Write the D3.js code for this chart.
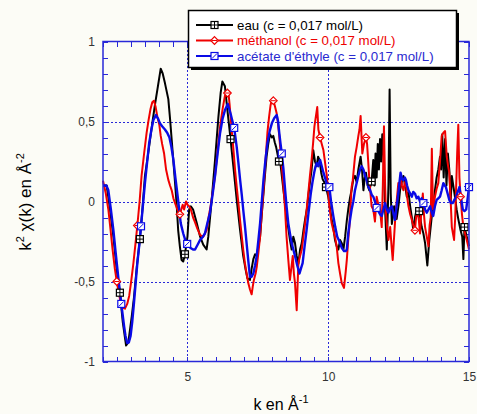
<!DOCTYPE html>
<html><head><meta charset="utf-8">
<script src="https://cdn.jsdelivr.net/npm/d3@7"></script>
<style>
html,body{margin:0;padding:0;background:#fcfcf6;}
svg{display:block;font-family:"Liberation Sans",Arial,sans-serif;}
</style></head>
<body><svg id="c" width="477" height="414"></svg>
<script>
// ---------- DATA ----------
const seriesNames = ["eau (c = 0,017 mol/L)", "méthanol (c = 0,017 mol/L)", "acétate d'éthyle (c = 0,017 mol/L)"];
const xTickLabels = [5, 10, 15];
const yTickLabels = [-1, -0.5, 0, 0.5, 1];

const eauK = [2.0,2.13,2.25,2.37,2.49,2.6,2.7,2.82,2.9,3.02,3.1,3.2,3.31,3.4,3.49,3.58,3.67,3.76,3.85,3.95,4.05,4.12,4.2,4.32,4.38,4.44,4.5,4.56,4.62,4.67,4.73,4.79,4.85,4.91,5.0,5.06,5.12,5.2,5.33,5.45,5.56,5.68,5.74,5.86,5.98,6.1,6.18,6.24,6.33,6.42,6.53,6.63,6.75,6.87,6.98,7.06,7.13,7.22,7.28,7.34,7.4,7.46,7.52,7.58,7.64,7.7,7.76,7.81,7.87,7.93,8.0,8.05,8.1,8.15,8.25,8.3,8.41,8.52,8.64,8.7,8.76,8.82,8.88,8.94,9.0,9.06,9.12,9.18,9.24,9.29,9.35,9.41,9.47,9.53,9.59,9.64,9.69,9.75,9.8,9.86,9.92,10.0,10.06,10.12,10.18,10.24,10.3,10.36,10.42,10.48,10.54,10.6,10.66,10.71,10.77,10.83,10.89,10.95,11.01,11.07,11.15,11.2,11.25,11.3,11.34,11.4,11.46,11.54,11.6,11.64,11.68,11.72,11.76,11.8,11.84,11.88,11.92,11.96,12.02,12.08,12.14,12.18,12.22,12.26,12.34,12.43,12.5,12.55,12.61,12.67,12.73,12.79,12.85,12.91,12.97,13.02,13.08,13.14,13.23,13.32,13.38,13.44,13.52,13.59,13.68,13.74,13.79,13.85,13.91,13.97,14.01,14.05,14.1,14.15,14.2,14.25,14.3,14.35,14.39,14.45,14.5,14.56,14.62,14.7,14.76,14.8,14.84,14.92,15.0];
const eauV = [0.1,0.1,-0.05,-0.22,-0.43,-0.57,-0.75,-0.9,-0.88,-0.72,-0.6,-0.41,-0.235,-0.05,0.16,0.27,0.385,0.5,0.61,0.72,0.83,0.8,0.74,0.64,0.52,0.385,0.25,0.115,-0.03,-0.18,-0.28,-0.365,-0.375,-0.33,-0.22,-0.05,-0.03,-0.05,-0.135,-0.22,-0.27,-0.3,-0.22,0.01,0.26,0.53,0.68,0.75,0.72,0.57,0.39,0.22,0.01,-0.18,-0.34,-0.42,-0.48,-0.49,-0.42,-0.36,-0.33,-0.34,-0.28,-0.22,-0.08,0.05,0.18,0.28,0.36,0.42,0.4,0.41,0.37,0.34,0.25,0.24,0.07,-0.09,-0.24,-0.3,-0.22,-0.26,-0.34,-0.39,-0.3,-0.26,-0.18,-0.11,-0.05,0.03,0.12,0.2,0.32,0.25,0.22,0.28,0.26,0.18,0.14,0.12,0.09,0.03,-0.04,-0.11,-0.16,-0.24,-0.28,-0.3,-0.24,-0.26,-0.3,-0.22,-0.12,-0.05,0.02,0.07,0.14,0.16,0.12,0.2,0.28,0.2,0.07,0.15,0.18,0.1,0.07,0.125,0.26,0.1,0.3,0.15,0.36,0.2,0.39,0.25,0.42,0.3,-0.05,-0.3,0.11,0.7,0.05,-0.14,-0.03,-0.11,-0.02,0.07,0.12,0.16,0.1,0.03,0.06,-0.03,-0.1,-0.18,-0.1,-0.05,-0.06,-0.16,-0.2,-0.26,-0.4,-0.24,-0.09,-0.02,0.07,0.15,0.2,0.28,0.2,0.42,0.15,0.39,0.1,0.3,0.2,0.0,0.16,0.09,0.03,-0.05,-0.11,-0.18,-0.22,-0.36,-0.16,-0.22,-0.28];

const methK = [2.0,2.1,2.19,2.27,2.34,2.42,2.49,2.57,2.66,2.78,2.86,2.93,3.0,3.08,3.15,3.22,3.3,3.37,3.46,3.55,3.62,3.69,3.75,3.81,3.87,3.93,4.0,4.05,4.1,4.17,4.24,4.32,4.38,4.44,4.5,4.56,4.64,4.73,4.78,4.83,4.88,4.95,5.0,5.06,5.12,5.2,5.27,5.35,5.45,5.56,5.68,5.75,5.82,5.9,5.98,6.07,6.16,6.25,6.33,6.4,6.45,6.5,6.57,6.63,6.69,6.75,6.81,6.87,6.93,6.98,7.04,7.1,7.16,7.22,7.28,7.32,7.36,7.42,7.46,7.52,7.58,7.64,7.7,7.77,7.84,7.9,7.95,8.0,8.05,8.1,8.17,8.22,8.26,8.32,8.38,8.46,8.52,8.58,8.64,8.7,8.74,8.78,8.82,8.88,8.94,9.0,9.06,9.12,9.18,9.24,9.29,9.35,9.41,9.46,9.51,9.56,9.61,9.65,9.71,9.77,9.83,9.89,9.95,10.0,10.04,10.12,10.18,10.24,10.3,10.36,10.42,10.48,10.56,10.62,10.66,10.71,10.75,10.83,10.87,10.95,11.01,11.07,11.11,11.15,11.21,11.27,11.34,11.38,11.42,11.46,11.54,11.6,11.66,11.72,11.78,11.84,11.9,11.94,11.98,12.02,12.05,12.1,12.14,12.2,12.25,12.29,12.33,12.37,12.43,12.49,12.53,12.57,12.62,12.67,12.72,12.76,12.8,12.85,12.91,12.97,13.02,13.08,13.12,13.17,13.22,13.26,13.31,13.36,13.4,13.44,13.5,13.56,13.6,13.64,13.68,13.72,13.79,13.85,13.91,13.97,14.03,14.09,14.15,14.21,14.26,14.3,14.35,14.39,14.43,14.47,14.51,14.54,14.58,14.62,14.66,14.7,14.75,14.8,14.86,14.92,15.0];
const methV = [0.13,0.05,-0.05,-0.18,-0.3,-0.42,-0.5,-0.58,-0.66,-0.67,-0.64,-0.59,-0.5,-0.385,-0.27,-0.15,0.0,0.16,0.3,0.43,0.51,0.58,0.62,0.63,0.59,0.53,0.48,0.41,0.36,0.3,0.2,0.135,0.1,0.07,0.02,-0.01,-0.05,-0.08,-0.05,-0.02,-0.05,0.0,-0.02,-0.03,-0.05,-0.1,-0.13,-0.17,-0.21,-0.22,-0.18,-0.1,-0.03,0.06,0.16,0.32,0.47,0.58,0.66,0.67,0.69,0.6,0.45,0.33,0.2,0.09,-0.01,-0.12,-0.22,-0.3,-0.385,-0.45,-0.51,-0.55,-0.58,-0.53,-0.49,-0.45,-0.41,-0.32,-0.22,-0.07,0.07,0.25,0.43,0.53,0.6,0.64,0.63,0.6,0.55,0.48,0.41,0.28,0.16,-0.03,-0.22,-0.36,-0.49,-0.4,-0.34,-0.45,-0.51,-0.68,-0.385,-0.34,-0.3,-0.22,-0.135,-0.04,0.05,0.16,0.26,0.36,0.47,0.53,0.59,0.45,0.4,0.36,0.32,0.24,0.16,0.06,-0.03,-0.135,-0.18,-0.22,-0.28,-0.385,-0.45,-0.51,-0.54,-0.44,-0.365,-0.24,-0.16,0.09,0.13,0.28,0.34,0.41,0.45,0.535,0.3,0.36,0.4,0.36,0.25,0.135,-0.03,-0.05,-0.125,0.03,-0.02,-0.05,-0.16,0.1,0.47,0.1,-0.07,-0.18,-0.24,-0.16,-0.28,-0.365,-0.25,-0.135,0.0,0.115,0.08,0.16,0.1,0.07,0.12,0.115,0.03,-0.03,-0.08,-0.115,-0.15,-0.18,-0.1,-0.05,-0.12,-0.2,-0.05,0.05,-0.08,-0.16,-0.22,-0.28,-0.15,-0.1,0.33,-0.05,0.03,0.08,0.115,0.25,0.41,0.43,0.44,0.28,0.22,0.18,0.0,-0.16,-0.2,-0.24,-0.1,0.07,0.3,0.48,0.15,0.03,-0.08,-0.16,-0.2,-0.24,-0.3];

const acetK = [2.0,2.04,2.12,2.19,2.28,2.37,2.45,2.54,2.65,2.75,2.8,2.86,2.92,2.98,3.04,3.1,3.16,3.22,3.29,3.35,3.42,3.49,3.57,3.64,3.72,3.79,3.88,3.95,4.02,4.1,4.2,4.28,4.36,4.43,4.5,4.57,4.64,4.7,4.76,4.85,4.92,4.99,5.11,5.2,5.27,5.36,5.45,5.55,5.62,5.7,5.8,5.89,5.98,6.07,6.16,6.25,6.33,6.43,6.53,6.6,6.66,6.75,6.81,6.87,6.93,6.98,7.04,7.1,7.16,7.22,7.28,7.34,7.4,7.46,7.52,7.58,7.64,7.7,7.77,7.84,7.92,8.0,8.08,8.17,8.22,8.26,8.3,8.35,8.41,8.47,8.52,8.58,8.64,8.7,8.76,8.82,8.9,8.98,9.03,9.09,9.16,9.23,9.3,9.38,9.44,9.5,9.55,9.59,9.65,9.71,9.77,9.83,9.9,9.97,10.04,10.1,10.18,10.25,10.32,10.4,10.48,10.56,10.62,10.66,10.71,10.77,10.83,10.89,10.95,11.01,11.07,11.13,11.19,11.25,11.31,11.37,11.43,11.49,11.55,11.6,11.66,11.72,11.78,11.84,11.9,11.96,12.02,12.08,12.14,12.2,12.26,12.32,12.37,12.43,12.49,12.53,12.57,12.62,12.67,12.72,12.76,12.8,12.85,12.91,12.97,13.02,13.08,13.14,13.2,13.26,13.32,13.38,13.44,13.5,13.56,13.62,13.68,13.73,13.79,13.85,13.91,13.97,14.03,14.09,14.14,14.18,14.24,14.3,14.36,14.42,14.48,14.54,14.6,14.66,14.72,14.78,14.84,14.9,14.96,15.0];
const acetV = [0.1,0.1,0.1,0.07,-0.05,-0.18,-0.32,-0.47,-0.64,-0.78,-0.84,-0.885,-0.88,-0.84,-0.75,-0.635,-0.51,-0.385,-0.27,-0.155,-0.02,0.115,0.25,0.365,0.45,0.51,0.54,0.52,0.49,0.47,0.45,0.43,0.4,0.34,0.26,0.15,0.05,-0.04,-0.135,-0.2,-0.24,-0.265,-0.29,-0.3,-0.3,-0.27,-0.24,-0.22,-0.2,-0.14,-0.07,0.04,0.16,0.3,0.43,0.52,0.57,0.61,0.55,0.5,0.46,0.34,0.24,0.135,0.04,-0.05,-0.15,-0.26,-0.37,-0.47,-0.47,-0.45,-0.4,-0.34,-0.24,-0.135,0.0,0.135,0.26,0.365,0.44,0.49,0.52,0.54,0.5,0.43,0.37,0.3,0.2,0.07,-0.03,-0.135,-0.2,-0.26,-0.3,-0.34,-0.4,-0.45,-0.42,-0.385,-0.28,-0.18,-0.07,0.05,0.12,0.18,0.22,0.24,0.22,0.26,0.22,0.18,0.14,0.1,0.09,0.0,-0.09,-0.16,-0.22,-0.25,-0.29,-0.31,-0.31,-0.3,-0.2,-0.12,-0.05,0.0,0.07,0.115,0.16,0.2,0.22,0.2,0.16,0.13,0.09,0.07,0.04,0.03,0.0,-0.04,-0.06,-0.08,-0.09,-0.05,-0.01,-0.05,-0.07,-0.04,-0.03,-0.08,-0.115,-0.03,0.05,0.12,0.18,0.14,0.135,0.15,0.135,0.1,0.07,0.05,0.03,0.06,0.05,0.02,0.03,0.0,0.02,-0.01,-0.05,-0.07,-0.05,-0.03,-0.07,-0.09,-0.03,0.01,0.02,0.03,0.07,0.115,0.1,0.09,0.05,0.01,-0.01,-0.01,0.01,0.03,0.06,0.09,0.02,-0.05,-0.06,-0.05,0.03,0.09];

const eauMarkK = [2.6,3.31,4.91,6.53,8.25,9.92,11.54,13.23,14.84];
const methMarkK = [2.49,3.22,4.73,6.42,8.05,9.71,11.34,13.08,14.7];
const acetMarkK = [2.65,3.35,4.99,6.66,8.35,10.04,11.72,13.38,15.0];

// ---------- CHART ----------
const svg = d3.select("#c");
const BG = "#fcfcf6", AX = "#2828d8";
svg.append("rect").attr("width",477).attr("height",414).attr("fill",BG);

const x = d3.scaleLinear().domain([2,15]).range([103,469]);
const y = d3.scaleLinear().domain([-1,1]).range([361.5,41.5]);
const X0=x(2), X1=x(15), Y0=y(-1), Y1=y(1);
const snap = v => Math.round(v) + 0.5;

// grid
const g = svg.append("g").attr("shape-rendering","crispEdges");
[5,10].forEach(v=>g.append("line").attr("x1",snap(x(v))).attr("x2",snap(x(v))).attr("y1",Y1).attr("y2",Y0)
  .attr("stroke",AX).attr("stroke-width",1).attr("stroke-dasharray","2,2"));
[-0.5,0,0.5].forEach(v=>g.append("line").attr("x1",X0).attr("x2",X1).attr("y1",snap(y(v))).attr("y2",snap(y(v)))
  .attr("stroke",AX).attr("stroke-width",1).attr("stroke-dasharray","2,2"));

// ticks (inward) on all four sides
const xt = d3.range(2,15.001,0.5), yt = d3.range(-1,1.0001,0.1);
function styleAxis(sel){sel.attr("shape-rendering","crispEdges");sel.select(".domain").remove();sel.selectAll("line").attr("stroke",AX).attr("stroke-width",1);sel.selectAll("text").remove();}
svg.append("g").attr("transform",`translate(0,${Y0})`).call(d3.axisBottom(x).tickValues(xt).tickSize(-5)).call(styleAxis);
svg.append("g").attr("transform",`translate(0,${Y1})`).call(d3.axisTop(x).tickValues(xt).tickSize(-5)).call(styleAxis);
svg.append("g").attr("transform",`translate(${X0},0)`).call(d3.axisLeft(y).tickValues(yt).tickSize(-5)).call(styleAxis);
svg.append("g").attr("transform",`translate(${X1},0)`).call(d3.axisRight(y).tickValues(yt).tickSize(-5)).call(styleAxis);

// tick labels
const fmt = d => String(d).replace(".", ",");
const xl = svg.append("g").attr("transform",`translate(0,${Y0})`)
  .call(d3.axisBottom(x).tickValues(xTickLabels).tickSize(0).tickPadding(11).tickFormat(fmt));
xl.select(".domain").remove();
xl.selectAll("text").attr("font-size",12).attr("fill","#333").attr("font-family","Liberation Sans, Arial");
const yl = svg.append("g").attr("transform",`translate(${X0},0)`)
  .call(d3.axisLeft(y).tickValues(yTickLabels).tickSize(0).tickPadding(8).tickFormat(fmt));
yl.select(".domain").remove();
yl.selectAll("text").attr("font-size",12).attr("fill","#333").attr("font-family","Liberation Sans, Arial");

// curves
const series = [
  {k:eauK, v:eauV, m:eauMarkK, color:"#000000", w:2, type:"sq"},
  {k:methK, v:methV, m:methMarkK, color:"#f00000", w:2, type:"dia"},
  {k:acetK, v:acetV, m:acetMarkK, color:"#0a0ae6", w:2.4, type:"slash"}
];
const line = d3.line().x(d=>x(d[0])).y(d=>y(d[1]));
series.forEach(s=>{
  s.pts = s.k.map((k,i)=>[k,s.v[i]]);
  svg.append("path").datum(s.pts).attr("d",line).attr("fill","none")
    .attr("stroke",s.color).attr("stroke-width",s.w).attr("stroke-linejoin","round");
});

function interp(s,k){
  const i = d3.bisector(d=>d[0]).left(s.pts,k);
  if(i<=0) return s.pts[0][1];
  if(i>=s.pts.length) return s.pts[s.pts.length-1][1];
  const a=s.pts[i-1], b=s.pts[i];
  return a[1]+(b[1]-a[1])*(k-a[0])/(b[0]-a[0]);
}
function marker(gp,type,color,cx,cy){
  const m = gp.append("g").attr("transform",`translate(${cx},${cy})`);
  if(type==="sq"){
    m.append("rect").attr("x",-3.5).attr("y",-3.5).attr("width",7).attr("height",7).attr("fill","#fff").attr("stroke",color).attr("stroke-width",1.2);
    m.append("path").attr("d","M-3.5,0H3.5M0,-3.5V3.5").attr("stroke",color).attr("stroke-width",1);
  } else if(type==="dia"){
    m.append("path").attr("d","M0,-3.8L3.8,0L0,3.8L-3.8,0Z").attr("fill","#fff").attr("stroke",color).attr("stroke-width",1.2);
    m.append("path").attr("d","M-2.5,0H2.5").attr("stroke",color).attr("stroke-width",1);
  } else {
    m.append("rect").attr("x",-3.5).attr("y",-3.5).attr("width",7).attr("height",7).attr("fill","#fff").attr("stroke",color).attr("stroke-width",1.2);
    m.append("path").attr("d","M-2.5,2.5L2.5,-2.5").attr("stroke",color).attr("stroke-width",1);
  }
}
const mg = svg.append("g");
series.forEach(s=>s.m.forEach(k=>marker(mg,s.type,s.color,x(k),y(interp(s,k)))));

// frame
svg.append("rect").attr("x",X0).attr("y",Y1).attr("width",X1-X0).attr("height",Y0-Y1)
  .attr("fill","none").attr("stroke",AX).attr("stroke-width",1.5);

// legend
const lg = svg.append("g");
lg.append("rect").attr("x",191).attr("y",13).attr("width",268).attr("height",57).attr("fill","#000");
lg.append("rect").attr("x",188.5).attr("y",10.5).attr("width",268).attr("height",57).attr("fill","#fff").attr("stroke","#000").attr("stroke-width",1.5);
const textCols = ["#000000","#ee0000","#2a2ad0"];
series.forEach((s,i)=>{
  const yy = 25 + i*15.5;
  lg.append("line").attr("x1",196).attr("x2",233).attr("y1",yy).attr("y2",yy).attr("stroke",s.color).attr("stroke-width",2);
  marker(lg,s.type,s.color,214.5,yy);
  lg.append("text").attr("x",237).attr("y",yy+4.8).attr("font-size",13.3).attr("fill",textCols[i]).text(seriesNames[i]);
});

// axis titles
const xtT = svg.append("text").attr("x",281).attr("y",410).attr("text-anchor","middle").attr("font-size",16).attr("fill","#000");
xtT.append("tspan").text("k en Å");
xtT.append("tspan").attr("dy",-7).attr("font-size",11).text("-1");

const ytT = svg.append("text").attr("transform","translate(31,202) rotate(-90)").attr("text-anchor","middle").attr("font-size",17).attr("fill","#000");
ytT.append("tspan").text("k");
ytT.append("tspan").attr("dy",-7).attr("font-size",11).text("2");
ytT.append("tspan").attr("dy",7).text(" χ(k) en Å");
ytT.append("tspan").attr("dy",-7).attr("font-size",11).text("-2");
</script></body></html>
